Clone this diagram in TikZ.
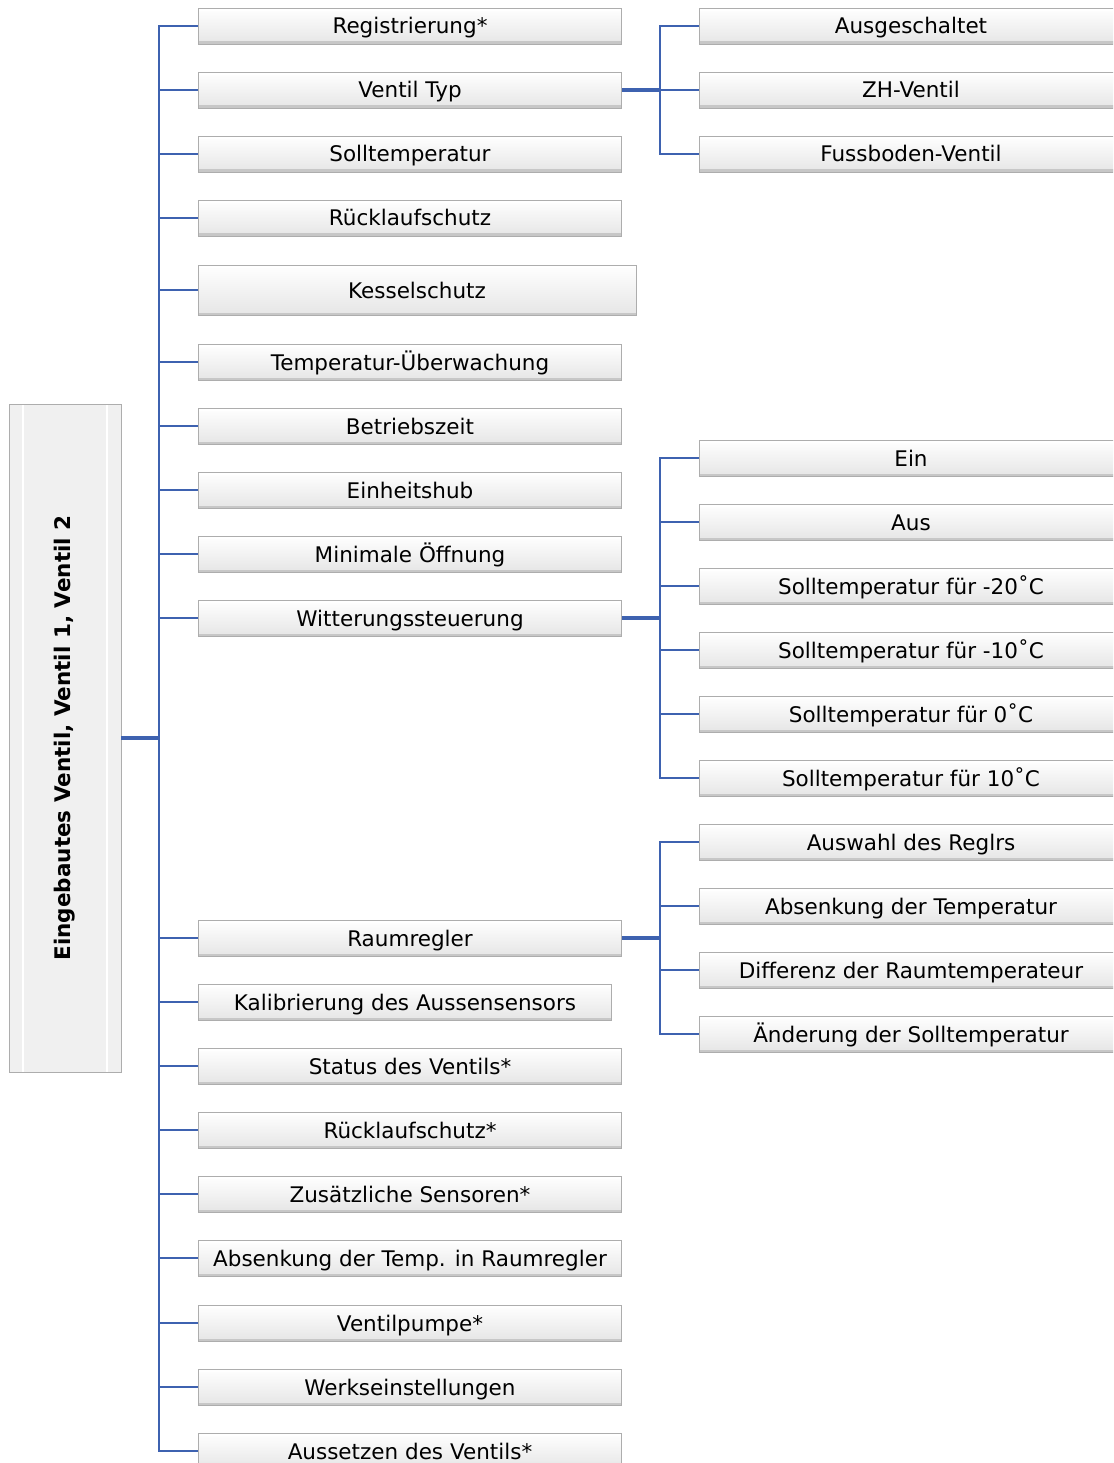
\documentclass[tikz,border=0pt]{standalone}
\usepackage{fontspec}
\setmainfont{DejaVu Sans}
\usetikzlibrary{positioning,calc}
\definecolor{connblue}{RGB}{62,98,176}
\tikzset{
  bevel/.style={rectangle, inner sep=0pt, top color=white, bottom color=black!10,
    draw=black!32, line width=0.8pt,
    path picture={
      \fill[black!22] (path picture bounding box.south west) rectangle
        ([yshift=2.5pt]path picture bounding box.south east);
      \fill[white] (path picture bounding box.north west) rectangle
        ([yshift=-3pt]path picture bounding box.north east);
    }},
  leaf/.style={bevel, minimum width=423pt, minimum height=36pt,
    text height=17.5pt, text depth=1.5pt, font=\fontsize{21.5}{25}\selectfont},
  rootbox/.style={rectangle, inner sep=0pt, fill=black!6, draw=black!32, line width=0.8pt,
    font=\fontsize{21.5}{25}\selectfont\bfseries,
    path picture={
      \draw[white, line width=2pt]
        ([xshift=14pt,yshift=-14pt]path picture bounding box.north west) rectangle
        ([xshift=-14pt,yshift=14pt]path picture bounding box.south east);
    }},
  stem/.style={draw=connblue, line width=3.5pt},
  branch/.style={draw=connblue, line width=2.2pt},
}
\begin{document}
\begin{tikzpicture}[x=1pt, y=-1pt]
  \path[use as bounding box, clip] (0,0) rectangle (1113,1463);
  % root
  \node[rootbox, rotate=90, minimum width=668pt, minimum height=112pt] (root) at (65,738)
    {Eingebautes Ventil, Ventil 1, Ventil 2};
  % first level
  \node[leaf] (reg) at (410,26) {Registrierung*};
  \node[leaf] (typ) at (410,90) {Ventil Typ};
  \node[leaf] (soll) at (410,154) {Solltemperatur};
  \node[leaf] (rueck) at (410,218) {Rücklaufschutz};
  \node[leaf, minimum width=438pt, minimum height=50pt] (kessel) at (417,290) {Kesselschutz};% larger box
  \node[leaf] (ueber) at (410,362) {Temperatur-Überwachung};
  \node[leaf] (betrieb) at (410,426) {Betriebszeit};
  \node[leaf] (hub) at (410,490) {Einheitshub};
  \node[leaf] (oeff) at (410,554) {Minimale Öffnung};
  \node[leaf] (witter) at (410,618) {Witterungssteuerung};
  \node[leaf] (raum) at (410,938) {Raumregler};
  \node[leaf, minimum width=413pt] (kalib) at (405,1002) {Kalibrierung des Aussensensors};
  \node[leaf] (status) at (410,1066) {Status des Ventils*};
  \node[leaf] (rueckst) at (410,1130) {Rücklaufschutz*};
  \node[leaf] (sens) at (410,1194) {Zusätzliche Sensoren*};
  \node[leaf] (absenk) at (410,1258) {Absenkung der Temp. in Raumregler};
  \node[leaf] (pumpe) at (410,1323) {Ventilpumpe*};
  \node[leaf] (werk) at (410,1387) {Werkseinstellungen};
  \node[leaf] (aussetz) at (410,1451) {Aussetzen des Ventils*};
  % second level: Ventil Typ
  \node[leaf, minimum width=424pt] (ausg) at (911,26) {Ausgeschaltet};
  \node[leaf, minimum width=424pt] (zh) at (911,90) {ZH-Ventil};
  \node[leaf, minimum width=424pt] (fuss) at (911,154) {Fussboden-Ventil};
  % second level: Witterungssteuerung
  \node[leaf, minimum width=424pt] (ein) at (911,458) {Ein};
  \node[leaf, minimum width=424pt] (aus) at (911,522) {Aus};
  \node[leaf, minimum width=424pt] (sm20) at (911,586) {Solltemperatur für -20˚C};
  \node[leaf, minimum width=424pt] (sm10) at (911,650) {Solltemperatur für -10˚C};
  \node[leaf, minimum width=424pt] (sz) at (911,714) {Solltemperatur für 0˚C};
  \node[leaf, minimum width=424pt] (sp10) at (911,778) {Solltemperatur für 10˚C};
  % second level: Raumregler
  \node[leaf, minimum width=424pt] (wahl) at (911,842) {Auswahl des Reglrs};
  \node[leaf, minimum width=424pt] (absk) at (911,906) {Absenkung der Temperatur};
  \node[leaf, minimum width=424pt] (diff) at (911,970) {Differenz der Raumtemperateur};
  \node[leaf, minimum width=424pt] (aend) at (911,1034) {Änderung der Solltemperatur};
  % connectors from the root
  \coordinate (trunk) at (159,738);
  \draw[stem] (root.south) -- (trunk);
  \draw[branch] (trunk) |- (reg.west);
  \draw[branch] (trunk) |- (typ.west);
  \draw[branch] (trunk) |- (soll.west);
  \draw[branch] (trunk) |- (rueck.west);
  \draw[branch] (trunk) |- (kessel.west);
  \draw[branch] (trunk) |- (ueber.west);
  \draw[branch] (trunk) |- (betrieb.west);
  \draw[branch] (trunk) |- (hub.west);
  \draw[branch] (trunk) |- (oeff.west);
  \draw[branch] (trunk) |- (witter.west);
  \draw[branch] (trunk) |- (raum.west);
  \draw[branch] (trunk) |- (kalib.west);
  \draw[branch] (trunk) |- (status.west);
  \draw[branch] (trunk) |- (rueckst.west);
  \draw[branch] (trunk) |- (sens.west);
  \draw[branch] (trunk) |- (absenk.west);
  \draw[branch] (trunk) |- (pumpe.west);
  \draw[branch] (trunk) |- (werk.west);
  \draw[branch] (trunk) |- (aussetz.west);
  % connectors from Ventil Typ
  \coordinate (typfork) at (660,90);
  \draw[stem] (typ.east) -- (typfork);
  \draw[branch] (typfork) |- (ausg.west);
  \draw[branch] (typfork) |- (zh.west);
  \draw[branch] (typfork) |- (fuss.west);
  % connectors from Witterungssteuerung
  \coordinate (witfork) at (660,618);
  \draw[stem] (witter.east) -- (witfork);
  \draw[branch] (witfork) |- (ein.west);
  \draw[branch] (witfork) |- (aus.west);
  \draw[branch] (witfork) |- (sm20.west);
  \draw[branch] (witfork) |- (sm10.west);
  \draw[branch] (witfork) |- (sz.west);
  \draw[branch] (witfork) |- (sp10.west);
  % connectors from Raumregler
  \coordinate (raumfork) at (660,938);
  \draw[stem] (raum.east) -- (raumfork);
  \draw[branch] (raumfork) |- (wahl.west);
  \draw[branch] (raumfork) |- (absk.west);
  \draw[branch] (raumfork) |- (diff.west);
  \draw[branch] (raumfork) |- (aend.west);
\end{tikzpicture}
\end{document}
